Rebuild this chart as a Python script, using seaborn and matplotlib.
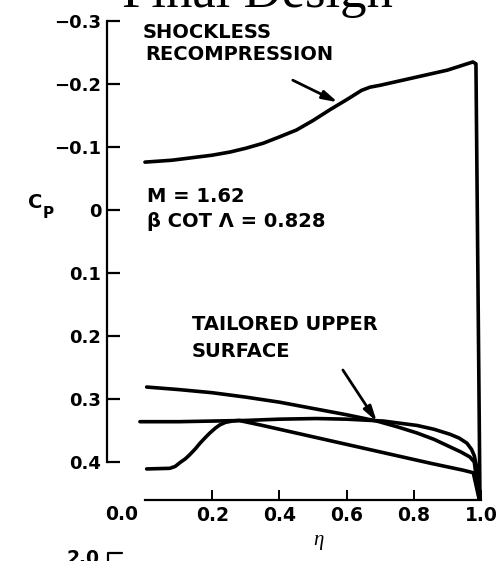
import matplotlib
matplotlib.use('Agg')
import matplotlib.pyplot as plt
import seaborn as sns
import pandas as pd
from matplotlib.lines import Line2D

# ---------------- data ----------------
shockless_eta = [0.0, 0.08, 0.155, 0.2, 0.253, 0.3, 0.352, 0.4, 0.451, 0.5, 0.55, 0.60, 0.645,
                 0.67, 0.70, 0.80, 0.90, 0.976, 0.985, 0.997]
shockless_cp = [-0.076, -0.079, -0.084, -0.087, -0.092, -0.098, -0.106, -0.116, -0.127, -0.142,
                -0.159, -0.175, -0.190, -0.195, -0.198, -0.210, -0.222, -0.235, -0.232, 0.46]

tailored_a_eta = [0.005, 0.1, 0.2, 0.3, 0.4, 0.5, 0.6, 0.69, 0.75, 0.81, 0.86, 0.908, 0.94,
                  0.967, 0.98, 0.995]
tailored_a_cp = [0.281, 0.285, 0.290, 0.297, 0.305, 0.315, 0.325, 0.335, 0.344, 0.354, 0.364,
                 0.376, 0.384, 0.392, 0.400, 0.46]

tailored_b_eta = [-0.015, 0.1, 0.2, 0.3, 0.4, 0.51, 0.6, 0.71, 0.81, 0.86, 0.908, 0.935, 0.958,
                  0.972, 0.98, 0.988, 0.995]
tailored_b_cp = [0.336, 0.336, 0.335, 0.334, 0.332, 0.331, 0.332, 0.335, 0.342, 0.348, 0.356,
                 0.362, 0.370, 0.380, 0.390, 0.410, 0.46]

tailored_c_eta = [0.005, 0.074, 0.09, 0.104, 0.12, 0.134, 0.15, 0.164, 0.18, 0.193, 0.21, 0.223,
                  0.24, 0.26, 0.28, 0.35, 0.45, 0.55, 0.65, 0.75, 0.85, 0.947, 0.977, 0.995]
tailored_c_cp = [0.411, 0.410, 0.407, 0.401, 0.395, 0.388, 0.379, 0.370, 0.361, 0.354, 0.346,
                 0.341, 0.337, 0.335, 0.334, 0.342, 0.354, 0.366, 0.378, 0.390, 0.402, 0.413,
                 0.417, 0.46]

y_ticks = [-0.3, -0.2, -0.1, 0.0, 0.1, 0.2, 0.3, 0.4]
y_tick_labels = ['\u22120.3', '\u22120.2', '\u22120.1', '0', '0.1', '0.2', '0.3', '0.4']
x_ticks = [0.2, 0.4, 0.6, 0.8, 1.0]
x_tick_labels = ['0.2', '0.4', '0.6', '0.8', '1.0']

arrow_shockless = ((0.44, -0.206), (0.574, -0.171))   # (tail, head)
arrow_tailored = ((0.589, 0.254), (0.69, 0.336))

# ---------------- figure ----------------
sns.set_style('ticks')
plt.rcParams['font.family'] = ['DejaVu Sans']
plt.rcParams.update({'text.color': 'black', 'axes.labelcolor': 'black',
                     'xtick.color': 'black', 'ytick.color': 'black',
                     'axes.edgecolor': 'black'})

W, H = 500, 561
fig = plt.figure(figsize=(W / 100, H / 100), dpi=100)


def fx(x):
    return x / W


def fy(y):
    return 1 - y / H


# axes: left spine at px 107, x=0 at px 145, x=1 at px 481; Cp -0.3 at px 21, bottom axis px 500
ax = fig.add_axes([fx(107), fy(500), fx(487.7) - fx(107), fy(21) - fy(500)])
ax.set_xlim(-0.113, 1.02)
ax.set_ylim(0.4603, -0.3)

curves = pd.concat([
    pd.DataFrame({'eta': shockless_eta, 'cp': shockless_cp, 'curve': 'shockless'}),
    pd.DataFrame({'eta': tailored_a_eta, 'cp': tailored_a_cp, 'curve': 'a'}),
    pd.DataFrame({'eta': tailored_b_eta, 'cp': tailored_b_cp, 'curve': 'b'}),
    pd.DataFrame({'eta': tailored_c_eta, 'cp': tailored_c_cp, 'curve': 'c'}),
], ignore_index=True)

for name, grp in curves.groupby('curve', sort=False):
    sns.lineplot(data=grp, x='eta', y='cp', sort=False, estimator=None,
                 color='black', lw=2.6, ax=ax, legend=False,
                 solid_joinstyle='round', solid_capstyle='round')

# spines
for s in ['top', 'right']:
    ax.spines[s].set_visible(False)
ax.spines['left'].set_bounds(-0.3, 0.4)
ax.spines['bottom'].set_bounds(0.0, 1.0)
ax.spines['left'].set_linewidth(1.6)
ax.spines['bottom'].set_linewidth(1.6)

ax.set_yticks(y_ticks, y_tick_labels)
ax.set_xticks(x_ticks, x_tick_labels)
ax.tick_params(axis='y', which='both', left=True, direction='in', length=9, width=1.6, pad=4,
               labelsize=13, colors='black')
ax.tick_params(axis='x', which='both', bottom=True, direction='in', length=7, width=1.4, pad=4,
               labelsize=13.5, colors='black')
for lab in ax.get_xticklabels() + ax.get_yticklabels():
    lab.set_fontweight('bold')
ax.set_xlabel('')
ax.set_ylabel('')

# detached 0.0 label
fig.text(fx(122), fy(505), '0.0', ha='center', va='top', fontsize=13.5, fontweight='bold',
         color='black')

# arrows
for (tail, head) in [arrow_shockless, arrow_tailored]:
    ax.annotate('', xy=head, xytext=tail,
                arrowprops=dict(arrowstyle='-|>,head_length=0.9,head_width=0.25',
                                color='black', lw=2.0, shrinkA=0, shrinkB=0))

# annotation texts
txt = dict(ha='left', va='baseline', fontsize=14, fontweight='bold', color='black')
fig.text(fx(143), fy(38), 'SHOCKLESS', **txt)
fig.text(fx(145), fy(60), 'RECOMPRESSION', **txt)
fig.text(fx(147), fy(202), 'M = 1.62', **txt)
fig.text(fx(147), fy(227), '\u03b2 COT \u039b = 0.828', **txt)
fig.text(fx(192), fy(330), 'TAILORED UPPER', **txt)
fig.text(fx(192), fy(357), 'SURFACE', **txt)

# y label C_P
fig.text(fx(35), fy(203), 'C', ha='center', va='center', fontsize=14, fontweight='bold',
         color='black')
fig.text(fx(48), fy(213), 'P', ha='center', va='center', fontsize=11, fontweight='bold',
         color='black')

# x label eta
fig.text(fx(318), fy(541), '\u03b7', ha='center', va='center', fontsize=15,
         family='Liberation Serif', style='italic', color='black')

# title (partially cut off at top, as in the reference)
fig.text(fx(257.5), fy(7.5), 'Final Design', ha='center', va='baseline', fontsize=38,
         family='Liberation Serif', color='black')

# next panel peeking in at the bottom (cut off, as in the reference)
fig.text(fx(100), fy(564), '2.0', ha='right', va='baseline', fontsize=13.5, fontweight='bold',
         color='black')
fig.add_artist(Line2D([fx(108), fx(108), fx(122)], [fy(565), fy(553), fy(553)],
                      color='black', lw=1.6))

fig.savefig('out.png', dpi=100)
